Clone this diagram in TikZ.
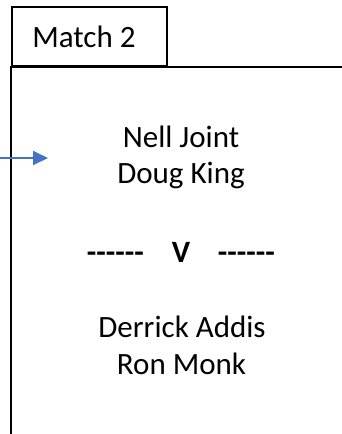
\documentclass[tikz,border=0pt]{standalone}
\usepackage{fontspec}
\setmainfont{Carlito}
\usetikzlibrary{arrows.meta}
\definecolor{arrowblue}{HTML}{4472C4}
\newcommand{\dashrun}{-{}-{}-{}-{}-{}-}
\begin{document}
\begin{tikzpicture}[x=1pt,y=-1pt,
  frame/.style={draw=black,line width=1.5pt},
  txt/.style={inner sep=0pt,anchor=base,font=\fontsize{31}{37}\selectfont},
  link/.style={draw=arrowblue,line width=2pt,-{Triangle[length=15pt,width=14pt]}}]
\useasboundingbox (0,0) rectangle (341,434);
\node[frame,minimum width=155pt,minimum height=59pt,anchor=north west,inner sep=0pt] (tab) at (11,6) {};
\node[txt] (title) at (84,47) {Match 2};
\coordinate (tl) at (11,67);
\coordinate (tr) at (342,67);
\coordinate (bl) at (11,435);
\draw[frame] (tr) -- (tl) -- (bl);
\coordinate (as) at (-1,158);
\coordinate (ae) at (48,158);
\draw[link] (as) -- (ae);
\node[txt] (n1) at (181,147) {Nell Joint};
\node[txt] (n2) at (181,183) {Doug King};
\node[txt,font=\fontsize{31}{37}\selectfont\bfseries] (vs) at (181,262) {\dashrun\hspace{0.9em}V\hspace{0.9em}\dashrun};
\node[txt] (d1) at (182,337) {Derrick Addis};
\node[txt] (d2) at (181.5,374) {Ron Monk};
\end{tikzpicture}
\end{document}
